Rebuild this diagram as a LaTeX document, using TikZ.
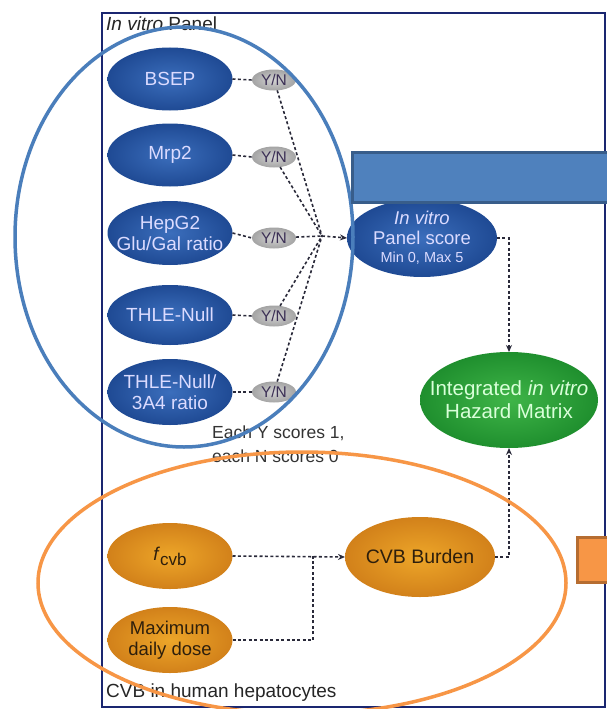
\documentclass[tikz,border=0pt]{standalone}
\usepackage{fontspec}
\setmainfont{Liberation Sans}
\usetikzlibrary{shapes.geometric,arrows.meta}
\definecolor{frameblue}{HTML}{1A2670}
\definecolor{nodeblueL}{HTML}{3B6EBC}
\definecolor{nodeblueD}{HTML}{1F4A94}
\definecolor{yngrey}{HTML}{D2D2D2}
\definecolor{yngreyD}{HTML}{A4A4A4}
\definecolor{yntext}{HTML}{3B2F55}
\definecolor{greenL}{HTML}{3FB548}
\definecolor{greenD}{HTML}{1F8F2E}
\definecolor{orangeL}{HTML}{EDA629}
\definecolor{orangeD}{HTML}{D2811A}
\definecolor{otext}{HTML}{2E1F0C}
\definecolor{lineblue}{HTML}{4A7EBB}
\definecolor{lineorange}{HTML}{F79646}
\definecolor{rectblue}{HTML}{4F81BD}
\definecolor{rectblueD}{HTML}{385D8A}
\definecolor{rectorangeD}{HTML}{B66D31}
\definecolor{conncol}{HTML}{2A2A3A}
\tikzset{
  shp/.style={ellipse, inner sep=0pt, outer sep=0pt},
  bnode/.style={shp, minimum width=125pt, minimum height=63pt,
    inner color=nodeblueL, outer color=nodeblueD},
  btext/.style={text=white!86!blue, align=center, inner sep=0pt,
    font=\fontsize{19}{21}\selectfont},
  ynode/.style={shp, minimum width=44pt, minimum height=21pt,
    inner color=yngrey, outer color=yngreyD},
  ytext/.style={text=yntext, inner sep=0pt, font=\fontsize{15.5}{16}\selectfont},
  onode/.style={shp, minimum width=125pt, minimum height=66pt,
    inner color=orangeL, outer color=orangeD},
  otextst/.style={text=otext, align=center, inner sep=0pt, font=\fontsize{18.5}{21}\selectfont},
  gnode/.style={shp, minimum width=178pt, minimum height=96pt,
    inner color=greenL, outer color=greenD},
  gtext/.style={text=white!85!green, align=center, inner sep=0pt,
    font=\fontsize{20.5}{23}\selectfont},
  conn/.style={draw=conncol, line width=1.6pt, dash pattern=on 3pt off 2.4pt},
  arr/.style={-{Stealth[length=7pt,width=6pt]}},
  lbl/.style={anchor=west, inner sep=0pt, font=\fontsize{19}{21}\selectfont, text=black!85},
}
\begin{document}
\begin{tikzpicture}[x=1pt,y=-1pt]
\useasboundingbox (0,0) rectangle (607,709);
\clip (0,0) rectangle (607,709);
\fill[white] (0,0) rectangle (607,709);
% frame
\draw[frameblue, line width=2pt] (102,13) rectangle (605,707);
\node[lbl] (title1) at (106,24) {\textit{In vitro} Panel};
\node[lbl] (title2) at (106,693) {CVB in human hepatocytes};
% panel nodes
\node[bnode] (bsep) at (170,79) {};
\node[btext] (bsept) at (bsep) {BSEP};
\node[bnode] (mrp2) at (170,155) {};
\node[btext] (mrp2t) at (mrp2) {Mrp2};
\node[bnode, minimum height=64pt] (hepg2) at (170,233) {};
\node[btext] (hepg2t) at (hepg2) {HepG2\\Glu/Gal ratio};
\node[bnode, minimum height=60pt] (thle) at (170,315) {};
\node[btext] (thlet) at (thle) {THLE-Null};
\node[bnode, minimum height=66pt] (thlea) at (170,392) {};
\node[btext] (thleat) at (thlea) {THLE-Null/\\3A4 ratio};
\foreach \n/\y in {1/80, 2/157, 3/238, 4/316, 5/392} {
  \node[ynode] (yn\n) at (274,\y) {};
  \node[ytext] (yn\n t) at (yn\n) {Y/N};
}
\coordinate (conv) at (322,236);
\node[bnode, minimum width=150pt, minimum height=78pt] (panel) at (422,238) {};
\node[btext, font=\fontsize{18.5}{20}\selectfont] (panelt) at (panel)
  {\textit{In vitro}\\Panel score\\[-2pt]{\fontsize{14.5}{16}\selectfont Min 0, Max 5}};
\node[gnode] (green) at (509,400) {};
\node[gtext] (greent) at (green) {Integrated \textit{in vitro}\\Hazard Matrix};
\node[font=\fontsize{17.5}{24}\selectfont, text=black!80, align=left, anchor=north west, inner sep=0pt] (each) at (212,426)
  {Each Y scores 1,\\each N scores 0};
% CVB nodes
\node[onode] (fcvb) at (170,556) {};
\node[otextst] (fcvbt) at (fcvb) {\textit{f}\raisebox{-5pt}{\fontsize{17}{18}\selectfont cvb}};
\node[onode] (maxd) at (170,640) {};
\node[otextst] (maxdt) at (maxd) {Maximum\\daily dose};
\node[onode, minimum width=150pt, minimum height=80pt] (cvb) at (420,557) {};
\node[otextst, font=\fontsize{19.5}{21}\selectfont] (cvbt) at (cvb) {CVB Burden};
\coordinate (join) at (313,556);
% connectors
\foreach \a/\b in {bsep/yn1, mrp2/yn2, hepg2/yn3, thle/yn4, thlea/yn5}
  \draw[conn] (\a.east) -- (\b.west);
\foreach \b in {yn1, yn2, yn3, yn4, yn5}
  \draw[conn] (\b) -- (conv);
\draw[conn, arr] (conv) -- (panel.west);
\draw[conn, arr] (panel.east) -| (green.north);
\draw[conn, arr] (fcvb.east) -- (cvb.west);
\draw[conn] (maxd.east) -| (join);
\draw[conn, arr] (cvb.east) -| (green.south);
% overlays
\draw[lineblue, line width=3.5pt] (184,237) ellipse [x radius=169, y radius=210];
\draw[lineorange, line width=3.5pt] (302,583) ellipse [x radius=264, y radius=131];
\draw[rectblueD, fill=rectblue, line width=3pt] (352,152) rectangle (615,202);
\draw[rectorangeD, fill=lineorange, line width=3pt] (577,537) rectangle (615,582);
\end{tikzpicture}
\end{document}
